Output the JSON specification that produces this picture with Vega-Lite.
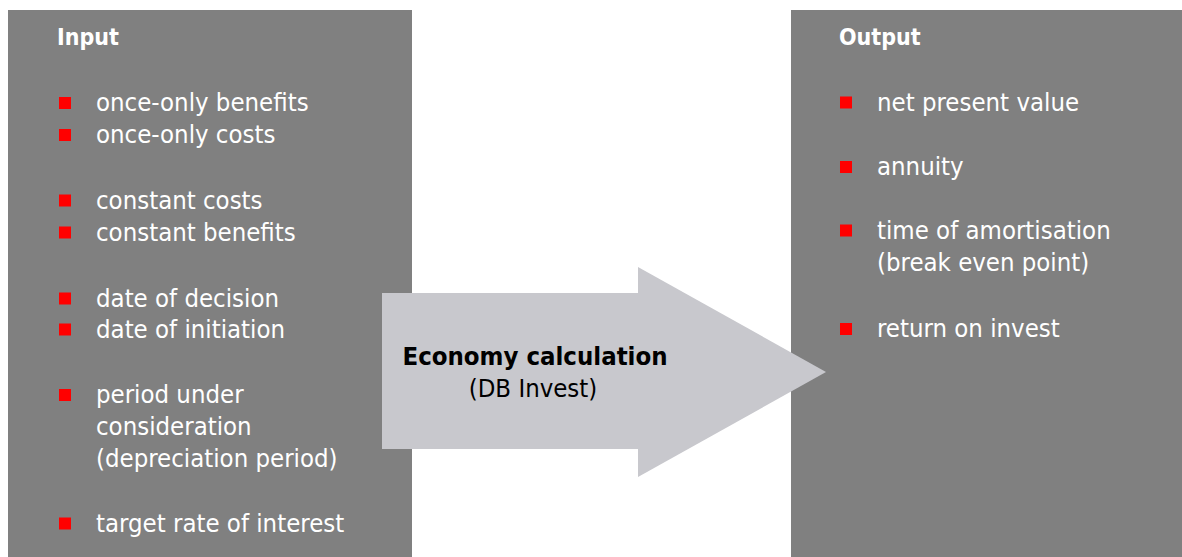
{
  "$schema": "https://vega.github.io/schema/vega-lite/v6.json",
  "width": 1182,
  "height": 557,
  "autosize": {"type": "fit", "contains": "padding"},
  "padding": 0,
  "background": "#ffffff",
  "config": {"view": {"stroke": null}},
  "datasets": {
    "panels": [
      {"name": "Input", "x": 8, "x2": 412, "y": 10, "y2": 557},
      {"name": "Output", "x": 791, "x2": 1182, "y": 10, "y2": 557}
    ],
    "arrowbody": [
      {"x": 382, "x2": 638.5, "y": 293, "y2": 449}
    ],
    "arrowhead": [
      {"x": 638, "lo": 477, "hi": 267},
      {"x": 826, "lo": 372, "hi": 372}
    ],
    "bullets": [
      {"x": 59, "x2": 71, "y": 97, "y2": 109},
      {"x": 59, "x2": 71, "y": 129, "y2": 141},
      {"x": 59, "x2": 71, "y": 194.5, "y2": 206.5},
      {"x": 59, "x2": 71, "y": 226.5, "y2": 238.5},
      {"x": 59, "x2": 71, "y": 292.5, "y2": 304.5},
      {"x": 59, "x2": 71, "y": 323.5, "y2": 335.5},
      {"x": 59, "x2": 71, "y": 389, "y2": 401},
      {"x": 59, "x2": 71, "y": 517.5, "y2": 529.5},
      {"x": 840, "x2": 852, "y": 96.5, "y2": 108.5},
      {"x": 840, "x2": 852, "y": 161, "y2": 173},
      {"x": 840, "x2": 852, "y": 224.5, "y2": 236.5},
      {"x": 840, "x2": 852, "y": 323, "y2": 335}
    ],
    "labels": [
      {"kind": "title", "x": 57, "y": 45, "text": "Input"},
      {"kind": "title", "x": 839, "y": 45, "text": "Output"},
      {"kind": "item", "x": 96, "y": 111, "text": "once-only benefits"},
      {"kind": "item", "x": 96, "y": 143, "text": "once-only costs"},
      {"kind": "item", "x": 96, "y": 208.5, "text": "constant costs"},
      {"kind": "item", "x": 96, "y": 240.5, "text": "constant benefits"},
      {"kind": "item", "x": 96, "y": 306.5, "text": "date of decision"},
      {"kind": "item", "x": 96, "y": 337.5, "text": "date of initiation"},
      {"kind": "item", "x": 96, "y": 402.5, "text": "period under"},
      {"kind": "item", "x": 96, "y": 435, "text": "consideration"},
      {"kind": "item", "x": 96, "y": 467, "text": "(depreciation period)"},
      {"kind": "item", "x": 96, "y": 531.5, "text": "target rate of interest"},
      {"kind": "item", "x": 877, "y": 110.5, "text": "net present value"},
      {"kind": "item", "x": 877, "y": 175, "text": "annuity"},
      {"kind": "item", "x": 877, "y": 238.5, "text": "time of amortisation"},
      {"kind": "item", "x": 877, "y": 270.5, "text": "(break even point)"},
      {"kind": "item", "x": 877, "y": 337, "text": "return on invest"},
      {"kind": "centerbold", "x": 535, "y": 365, "text": "Economy calculation"},
      {"kind": "center", "x": 533, "y": 396.5, "text": "(DB Invest)"}
    ]
  },
  "layer": [
    {
      "data": {"name": "panels"},
      "mark": {"type": "rect", "color": "#808080"},
      "encoding": {
        "x": {"field": "x", "type": "quantitative", "scale": {"domain": [0, 1182], "nice": false, "zero": false}, "axis": null},
        "x2": {"field": "x2"},
        "y": {"field": "y", "type": "quantitative", "scale": {"domain": [0, 557], "nice": false, "zero": false, "reverse": true}, "axis": null},
        "y2": {"field": "y2"}
      }
    },
    {
      "data": {"name": "arrowbody"},
      "mark": {"type": "rect", "color": "#c8c8cd"},
      "encoding": {
        "x": {"field": "x", "type": "quantitative"},
        "x2": {"field": "x2"},
        "y": {"field": "y", "type": "quantitative"},
        "y2": {"field": "y2"}
      }
    },
    {
      "data": {"name": "arrowhead"},
      "mark": {"type": "area", "color": "#c8c8cd", "opacity": 1, "interpolate": "linear"},
      "encoding": {
        "x": {"field": "x", "type": "quantitative"},
        "y": {"field": "hi", "type": "quantitative"},
        "y2": {"field": "lo"}
      }
    },
    {
      "data": {"name": "bullets"},
      "mark": {"type": "rect", "color": "#ff0000"},
      "encoding": {
        "x": {"field": "x", "type": "quantitative"},
        "x2": {"field": "x2"},
        "y": {"field": "y", "type": "quantitative"},
        "y2": {"field": "y2"}
      }
    },
    {
      "data": {"name": "labels"},
      "transform": [{"filter": "datum.kind === 'item'"}],
      "mark": {"type": "text", "align": "left", "baseline": "alphabetic", "font": "DejaVu Sans Condensed", "fontSize": 25.5, "color": "#ffffff"},
      "encoding": {
        "x": {"field": "x", "type": "quantitative"},
        "y": {"field": "y", "type": "quantitative"},
        "text": {"field": "text"}
      }
    },
    {
      "data": {"name": "labels"},
      "transform": [{"filter": "datum.kind === 'title'"}],
      "mark": {"type": "text", "align": "left", "baseline": "alphabetic", "font": "DejaVu Sans Condensed", "fontWeight": "bold", "fontSize": 23, "color": "#ffffff"},
      "encoding": {
        "x": {"field": "x", "type": "quantitative"},
        "y": {"field": "y", "type": "quantitative"},
        "text": {"field": "text"}
      }
    },
    {
      "data": {"name": "labels"},
      "transform": [{"filter": "datum.kind === 'centerbold'"}],
      "mark": {"type": "text", "align": "center", "baseline": "alphabetic", "font": "DejaVu Sans Condensed", "fontWeight": "bold", "fontSize": 25.5, "color": "#000000"},
      "encoding": {
        "x": {"field": "x", "type": "quantitative"},
        "y": {"field": "y", "type": "quantitative"},
        "text": {"field": "text"}
      }
    },
    {
      "data": {"name": "labels"},
      "transform": [{"filter": "datum.kind === 'center'"}],
      "mark": {"type": "text", "align": "center", "baseline": "alphabetic", "font": "DejaVu Sans Condensed", "fontSize": 25.5, "color": "#000000"},
      "encoding": {
        "x": {"field": "x", "type": "quantitative"},
        "y": {"field": "y", "type": "quantitative"},
        "text": {"field": "text"}
      }
    }
  ]
}
